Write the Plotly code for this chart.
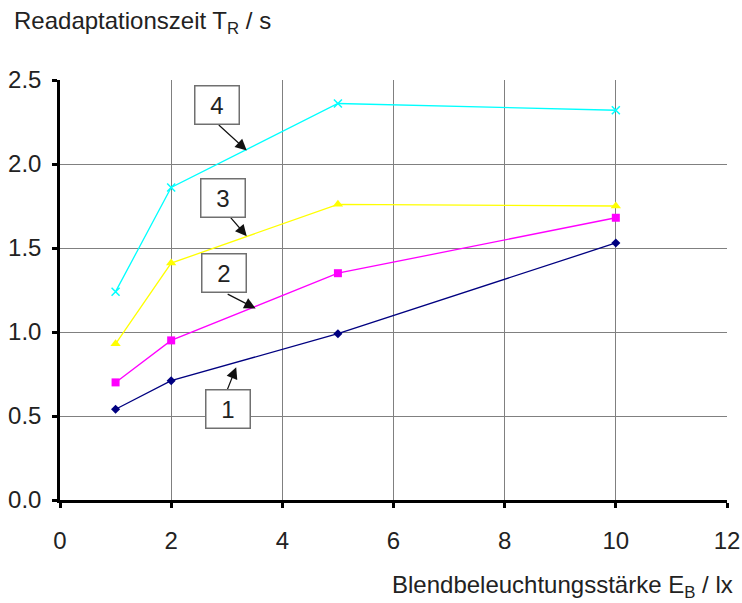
import plotly.graph_objects as go

# Glare illuminance E_B in lx
glare_lx = [1, 2, 5, 10]

# Readaptation time T_R in s for the four curves
curve_1 = [0.54, 0.71, 0.99, 1.53]
curve_2 = [0.70, 0.95, 1.35, 1.68]
curve_3 = [0.93, 1.41, 1.76, 1.75]
curve_4 = [1.24, 1.86, 2.36, 2.32]

curve_labels = ["1", "2", "3", "4"]

x_ticks = [0, 2, 4, 6, 8, 10, 12]
y_ticks = [0.0, 0.5, 1.0, 1.5, 2.0, 2.5]

FONT = "Liberation Sans, Arial, sans-serif"
TEXT_SIZE = 24

fig = go.Figure()

styles = [
    (curve_1, "#000080", dict(symbol="diamond", size=7)),
    (curve_2, "#ff00ff", dict(symbol="square", size=8)),
    (curve_3, "#ffff00", dict(symbol="triangle-up", size=9)),
    (curve_4, "#00ffff", dict(symbol="x-thin", size=8, line=dict(width=1.5, color="#00ffff"))),
]
for values, color, marker in styles:
    fig.add_trace(go.Scatter(
        x=glare_lx, y=values, mode="lines+markers",
        line=dict(color=color, width=1.3),
        marker=dict(color=color, **marker),
        showlegend=False,
    ))

# Numbered callout boxes: (label, box centre, arrow tail, arrow tip) in data units
callouts = [
    ("4", (2.82, 2.35), (2.83, 2.24), (3.36, 2.08)),
    ("3", (2.93, 1.80), (3.02, 1.70), (3.36, 1.57)),
    ("2", (2.95, 1.35), (2.99, 1.23), (3.52, 1.14)),
    ("1", (3.03, 0.54), (2.99, 0.64), (3.17, 0.79)),
]
annotations = []
for label, (bx, by), (tx, ty), (hx, hy) in callouts:
    annotations.append(dict(
        x=hx, y=hy, ax=tx, ay=ty, xref="x", yref="y", axref="x", ayref="y",
        text="", showarrow=True, arrowhead=2, arrowsize=1.9, arrowwidth=1.2,
        arrowcolor="#111111",
    ))
    annotations.append(dict(
        x=bx, y=by, xref="x", yref="y", text=label, showarrow=False,
        font=dict(family=FONT, size=TEXT_SIZE, color="#222222"),
        bgcolor="white", bordercolor="#707070", borderwidth=1.5,
        width=41, height=35,
    ))

annotations.append(dict(
    x=-0.072, y=1.138, xref="paper", yref="paper", xanchor="left", yanchor="middle",
    text="Readaptationszeit T<sub>R</sub> / s", showarrow=False,
    font=dict(family=FONT, size=TEXT_SIZE, color="#222222"),
))
annotations.append(dict(
    x=1.012, y=-0.205, xref="paper", yref="paper", xanchor="right", yanchor="middle",
    text="Blendbeleuchtungsstärke E<sub>B</sub> / lx", showarrow=False,
    font=dict(family=FONT, size=TEXT_SIZE, color="#222222"),
))

fig.update_layout(
    width=742, height=603,
    margin=dict(l=60, r=15, t=80, b=103),
    paper_bgcolor="white", plot_bgcolor="white",
    annotations=annotations,
    font=dict(family=FONT, size=TEXT_SIZE, color="#222222"),
)
fig.update_xaxes(
    range=[0, 12], tickvals=x_ticks, ticktext=[str(v) for v in x_ticks],
    showgrid=True, gridcolor="#808080", gridwidth=1.3,
    showline=True, linecolor="black", linewidth=2.5,
    ticks="outside", ticklen=5, tickwidth=2.5, tickcolor="black",
    zeroline=False, tickfont=dict(size=TEXT_SIZE), ticklabelstandoff=12,
    automargin=False,
)
fig.update_yaxes(
    range=[0, 2.5], tickvals=y_ticks, ticktext=[f"{v:.1f}" for v in y_ticks],
    showgrid=True, gridcolor="#808080", gridwidth=1.3,
    showline=True, linecolor="black", linewidth=2.5,
    ticks="outside", ticklen=5, tickwidth=2.5, tickcolor="black",
    zeroline=False, tickfont=dict(size=TEXT_SIZE), ticklabelstandoff=6,
    automargin=False,
)

fig.write_html("out.html")
